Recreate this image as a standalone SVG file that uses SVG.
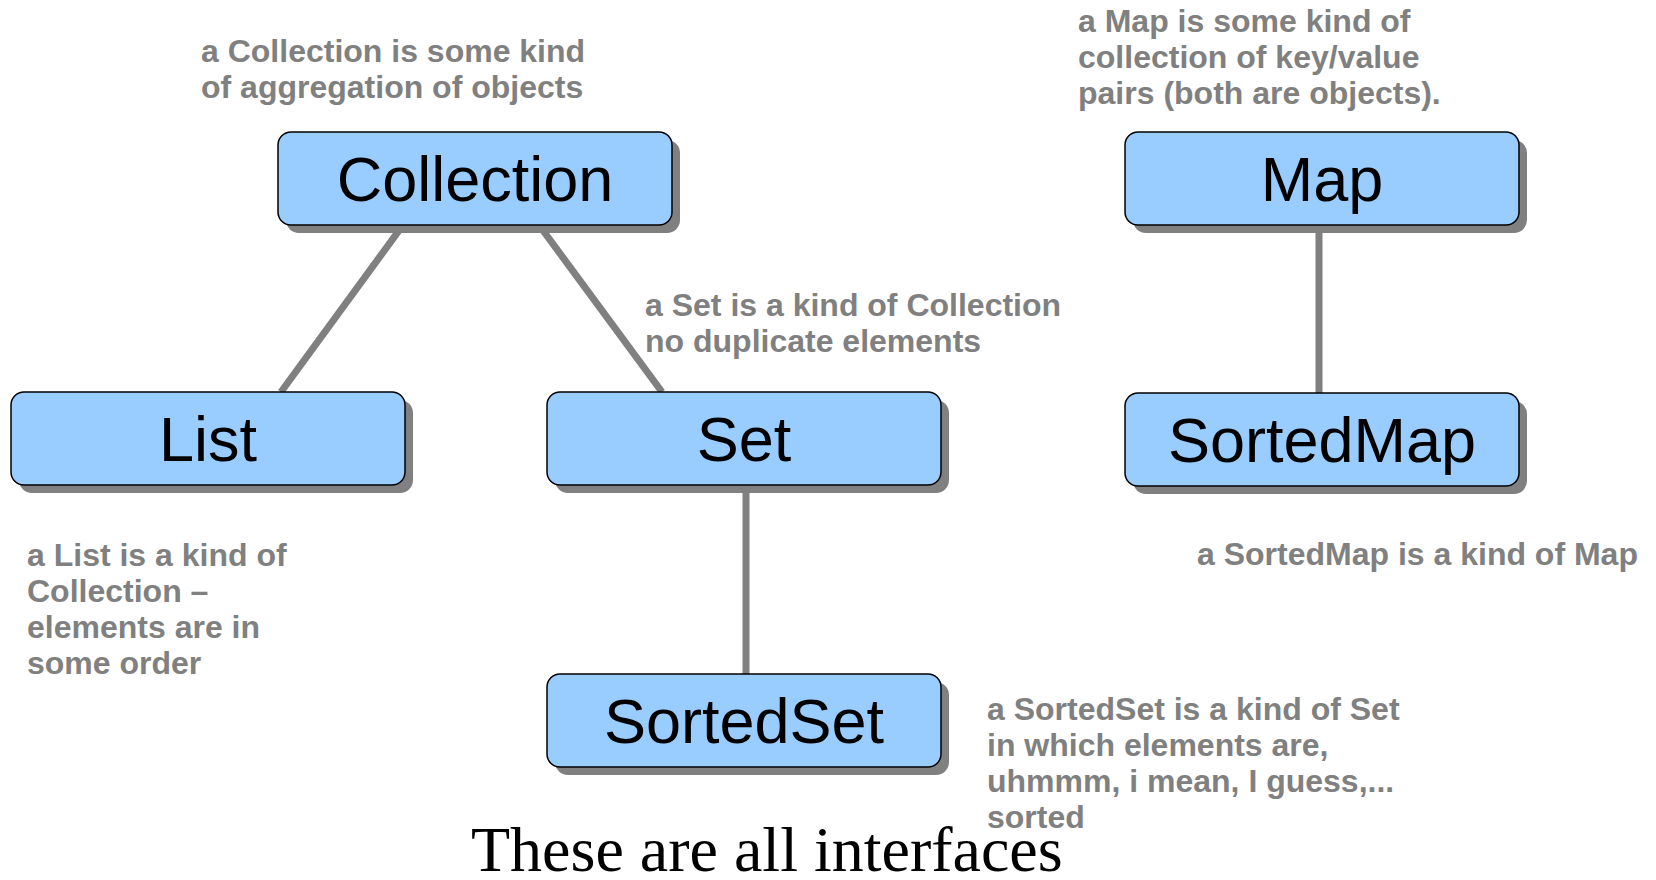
<svg xmlns="http://www.w3.org/2000/svg" width="1656" height="880" viewBox="0 0 1656 880">
<style>
.shadow{fill:#808080}
.box{fill:#99ccff;stroke:#000;stroke-width:1.5}
.lbl{font-family:"Liberation Sans",Arial,sans-serif;font-size:63px;fill:#000;text-anchor:middle}
.note{font-family:"Liberation Sans",Arial,sans-serif;font-size:32px;font-weight:bold;fill:#808080}
.conn{stroke:#808080;stroke-width:7;fill:none}
.title{font-family:"Liberation Serif","Times New Roman",serif;font-size:64px;fill:#000}
</style>
<rect width="1656" height="880" fill="#fff"/>
<g id="connectors">
<line class="conn" x1="403" y1="225" x2="281" y2="392"/>
<line class="conn" x1="539" y1="225" x2="662" y2="392"/>
<line class="conn" x1="746" y1="485" x2="746" y2="674"/>
<line class="conn" x1="1319" y1="225" x2="1319" y2="393"/>
</g>
<g id="Collection">
<rect class="shadow" x="286" y="140" width="394" height="93" rx="13"/>
<rect class="box" x="278" y="132" width="394" height="93" rx="13"/>
<text class="lbl" x="475" y="201">Collection</text>
</g>
<g id="List">
<rect class="shadow" x="19" y="400" width="394" height="93" rx="13"/>
<rect class="box" x="11" y="392" width="394" height="93" rx="13"/>
<text class="lbl" x="208" y="461">List</text>
</g>
<g id="Set">
<rect class="shadow" x="555" y="400" width="394" height="93" rx="13"/>
<rect class="box" x="547" y="392" width="394" height="93" rx="13"/>
<text class="lbl" x="744" y="461">Set</text>
</g>
<g id="SortedSet">
<rect class="shadow" x="555" y="682" width="394" height="93" rx="13"/>
<rect class="box" x="547" y="674" width="394" height="93" rx="13"/>
<text class="lbl" x="744" y="743">SortedSet</text>
</g>
<g id="Map">
<rect class="shadow" x="1133" y="140" width="394" height="93" rx="13"/>
<rect class="box" x="1125" y="132" width="394" height="93" rx="13"/>
<text class="lbl" x="1322" y="201">Map</text>
</g>
<g id="SortedMap">
<rect class="shadow" x="1133" y="401" width="394" height="93" rx="13"/>
<rect class="box" x="1125" y="393" width="394" height="93" rx="13"/>
<text class="lbl" x="1322" y="462">SortedMap</text>
</g>
<g id="notes">
<text class="note" x="201" y="62">a Collection is some kind</text>
<text class="note" x="201" y="98">of aggregation of objects</text>
<text class="note" x="1078" y="32">a Map is some kind of</text>
<text class="note" x="1078" y="68">collection of key/value</text>
<text class="note" x="1078" y="104">pairs (both are objects).</text>
<text class="note" x="645" y="316">a Set is a kind of Collection</text>
<text class="note" x="645" y="352">no duplicate elements</text>
<text class="note" x="27" y="566">a List is a kind of</text>
<text class="note" x="27" y="602">Collection –</text>
<text class="note" x="27" y="638">elements are in</text>
<text class="note" x="27" y="674">some order</text>
<text class="note" x="1197" y="565">a SortedMap is a kind of Map</text>
<text class="note" x="987" y="720">a SortedSet is a kind of Set</text>
<text class="note" x="987" y="756">in which elements are,</text>
<text class="note" x="987" y="792">uhmmm, i mean, I guess,...</text>
<text class="note" x="987" y="828">sorted</text>
</g>
<text class="title" x="471" y="871">These are all interfaces</text>
</svg>
